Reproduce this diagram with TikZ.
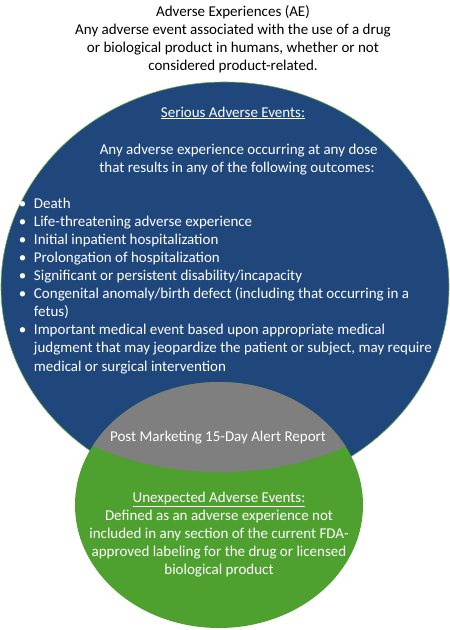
\documentclass[tikz,border=0pt]{standalone}
\usepackage{fontspec}
\setmainfont{Carlito}
\definecolor{aeblue}{HTML}{1F477B}
\definecolor{aegreen}{HTML}{4FA12F}
\definecolor{aegray}{HTML}{7F7F7F}
\definecolor{aeedge}{HTML}{6AA84F}
\begin{document}
\begin{tikzpicture}[x=1pt,y=-1pt,
  txt/.style={font=\fontsize{15}{17.8}\selectfont, inner sep=0pt, outer sep=0pt},
  wtxt/.style={txt, text=white},
  listtxt/.style={wtxt, font=\fontsize{15}{18.1}\selectfont},
]
\useasboundingbox (0,0) rectangle (450,630);
% blue ellipse
\fill[aeblue, draw=aeedge, line width=0.6pt] (225,287) ellipse [x radius=224pt, y radius=205pt];
% green ellipse
\fill[aegreen] (219,505) ellipse [x radius=144pt, y radius=123pt];
% gray overlap
\begin{scope}
  \clip (219,505) ellipse [x radius=144pt, y radius=123pt];
  \fill[aegray] (220,324) ellipse [x radius=224pt, y radius=148pt];
\end{scope}

\node[txt, align=center, anchor=base] (title) at (233,70)
  {Adverse Experiences (AE)\\
   Any adverse event associated with the use of a drug\\
   or biological product in humans, whether or not\\
   considered product-related.};

\node[wtxt, anchor=base] (sae) at (233,117) {\underline{Serious Adverse Events:}};

\node[wtxt, align=center, anchor=base] (saedef) at (237,172)
  {\ Any adverse experience occurring at any dose\\
   that results in any of the following outcomes:};

\node[listtxt, align=left, anchor=base west] (list) at (19,371)
  {\makebox[15pt][l]{•}Death\\
   \makebox[15pt][l]{•}Life-threatening adverse experience\\
   \makebox[15pt][l]{•}Initial inpatient hospitalization\\
   \makebox[15pt][l]{•}Prolongation of hospitalization\\
   \makebox[15pt][l]{•}Significant or persistent disability/incapacity\\
   \makebox[15pt][l]{•}Congenital anomaly/birth defect (including that occurring in a\\
   \hspace*{15pt}fetus)\\
   \makebox[15pt][l]{•}Important medical event based upon appropriate medical\\
   \hspace*{15pt}judgment that may jeopardize the patient or subject, may require\\
   \hspace*{15pt}medical or surgical intervention};

\node[wtxt, anchor=base] (alert) at (218,441) {Post Marketing 15-Day Alert Report};

\node[wtxt, anchor=base] (uae) at (219,502) {\underline{Unexpected Adverse Events:}};

\node[wtxt, align=center, anchor=base] (uaedef) at (219,574)
  {Defined as an adverse experience not\\
   included in any section of the current FDA-\\
   approved labeling for the drug or licensed\\
   biological product};
\end{tikzpicture}
\end{document}
